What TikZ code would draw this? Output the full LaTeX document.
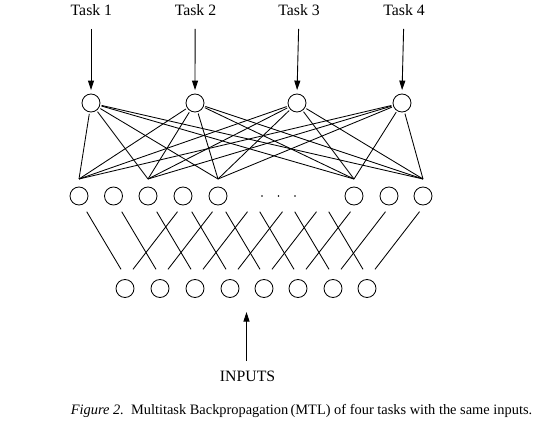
\documentclass[tikz,border=0pt]{standalone}
\usepackage{fontspec}
\setmainfont{Liberation Serif}
\usetikzlibrary{arrows.meta,calc}
\begin{document}
\begin{tikzpicture}[x=1pt,y=-1pt,
  unit/.style={circle,draw,line width=0.85pt,minimum size=18pt,inner sep=0pt},
  wire/.style={line width=0.85pt},
  feed/.style={line width=0.9pt,-{Triangle[length=9.5pt,width=6pt]}},
  lbl/.style={font=\fontsize{15.8}{18}\selectfont,inner sep=0pt},
  caplbl/.style={font=\fontsize{14.4}{17}\selectfont,inner sep=0pt}]
\useasboundingbox[fill=white] (0,0) rectangle (540,435);
% output units
\foreach \i/\x in {1/91,2/195,3/297,4/402}{
  \node[unit] (o\i) at (\x,103) {};
}
% task labels
\foreach \i/\x in {1/91.4,2/195.5,3/299,4/404}{
  \node[lbl] (t\i) at (\x,10) {Task \i};
  \coordinate (ta\i) at (\x-0.4,29);
}
\foreach \i in {1,...,4}{ \draw[feed,shorten >=3.5pt] (ta\i) -- (o\i.north); }
% hidden units
\foreach \i/\x in {1/79,2/113.5,3/148,4/183,5/218,6/354,7/389,8/423}{
  \node[unit] (h\i) at (\x,196) {};
}
\foreach \x in {262,278.5,295}{ \fill (\x,196) circle (0.8); }
% convergence points above connected hidden units
\foreach \i in {1,3,5,6,8}{ \coordinate (hc\i) at ($(h\i)+(0,-17)$); }
\foreach \o in {1,...,4}{
  \foreach \h in {1,3,5,6,8}{
    \draw[wire,shorten <=1.5pt] (o\o) -- (hc\h);
  }
}
% input units
\foreach \i/\x in {1/125,2/160,3/195,4/230,5/264,6/298,7/333,8/367}{
  \node[unit] (in\i) at (\x,288.5) {};
  \coordinate (dra\i) at ($(in\i)+(-38.3,-76.8)$);
  \coordinate (drb\i) at ($(in\i)+(-4,-19.2)$);
  \coordinate (dla\i) at ($(in\i)+(52.5,-76.8)$);
  \coordinate (dlb\i) at ($(in\i)+(8,-19.2)$);
}
\foreach \i in {1,...,8}{
  \draw[wire] (dra\i) -- (drb\i);
  \draw[wire] (dla\i) -- (dlb\i);
}
% inputs arrow
\node[lbl] (inp) at (247.6,376.5) {INPUTS};
\coordinate (ia) at (246.5,361);
\coordinate (ib) at (246.5,312);
\draw[feed] (ia) -- (ib);
% caption
\node[caplbl] (cap) at (301.5,411) {\textit{Figure 2.}\ \ Multitask Backpropagation\,(MTL) of four tasks with the same inputs.};
\end{tikzpicture}
\end{document}
